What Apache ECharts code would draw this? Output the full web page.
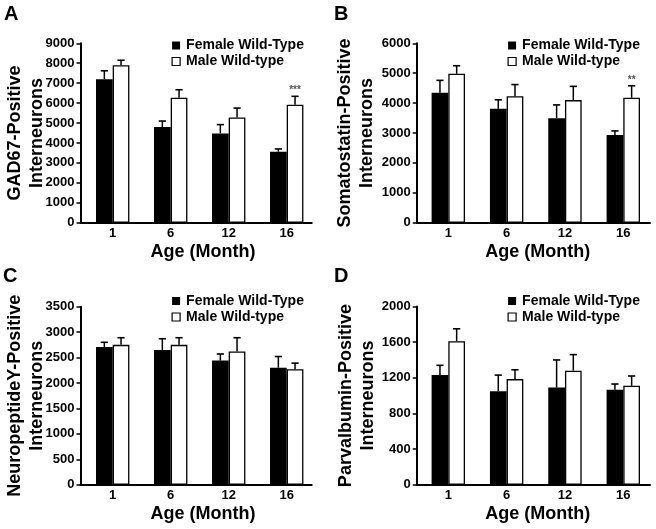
<!DOCTYPE html>
<html><head><meta charset="utf-8">
<script src="https://cdn.jsdelivr.net/npm/echarts@6/dist/echarts.min.js"></script>
<style>html,body{margin:0;padding:0;background:#fff}#c{width:656px;height:529px}</style>
</head><body><div id="c"></div>
<script>
// ---- data ----
const categories = ['1', '6', '12', '16'];
const seriesNames = ['Female Wild-Type', 'Male Wild-type'];
const panelLetters = ['A', 'B', 'C', 'D'];
const yTitles = ['GAD67-Positive\nInterneurons', 'Somatostatin-Positive\nInterneurons',
                 'NeuropeptideY-Positive\nInterneurons', 'Parvalbumin-Positive\nInterneurons'];
const xTitle = 'Age (Month)';
const yMax = [9000, 6000, 3500, 2000];
const yStep = [1000, 1000, 500, 400];

const gadFemale = [7200, 4800, 4480, 3560];
const gadFemaleErr = [420, 300, 440, 140];
const gadMale = [7900, 6270, 5280, 5920];
const gadMaleErr = [250, 400, 470, 420];
const gadSig = ['', '', '', '***'];

const sstFemale = [4350, 3810, 3490, 2930];
const sstFemaleErr = [410, 300, 450, 140];
const sstMale = [4980, 4230, 4100, 4180];
const sstMaleErr = [270, 390, 460, 400];
const sstSig = ['', '', '', '**'];

const npyFemale = [2710, 2650, 2440, 2300];
const npyFemaleErr = [90, 220, 130, 220];
const npyMale = [2750, 2750, 2620, 2270];
const npyMaleErr = [140, 140, 270, 120];
const npySig = ['', '', '', ''];

const pvFemale = [1230, 1050, 1090, 1065];
const pvFemaleErr = [110, 180, 310, 65];
const pvMale = [1610, 1185, 1280, 1110];
const pvMaleErr = [140, 105, 180, 110];
const pvSig = ['', '', '', ''];

const panels = [
  {f: gadFemale, fe: gadFemaleErr, m: gadMale, me: gadMaleErr, sig: gadSig},
  {f: sstFemale, fe: sstFemaleErr, m: sstMale, me: sstMaleErr, sig: sstSig},
  {f: npyFemale, fe: npyFemaleErr, m: npyMale, me: npyMaleErr, sig: npySig},
  {f: pvFemale, fe: pvFemaleErr, m: pvMale, me: pvMaleErr, sig: pvSig}
];

// ---- layout / style ----
const FONT = '"Liberation Sans", Arial, Helvetica, sans-serif';
const BAR_W = 16.7;
const gridPos = [
  {left: 80.5, top: 43.3, width: 231.2, height: 179.4},
  {left: 416.7, top: 43.3, width: 233.3, height: 179.4},
  {left: 80.5, top: 306.7, width: 231.2, height: 178},
  {left: 416.7, top: 306.5, width: 233.3, height: 178.2}
];
const xRange = [[-0.555, 3.431], [-0.542, 3.458]];
const yNameGap = [32, 39, 32, 38];
const legendPos = [[171.5, 37.5], [507.5, 37.5], [171.5, 293], [507.5, 293]];
const titlePos = [[4, 4], [334, 4], [3, 266], [334, 266]];

function errorSeries(gi, vals, errs, sig, shift) {
  return {
    type: 'custom', xAxisIndex: gi, yAxisIndex: gi, silent: true, z: 5,
    data: vals.map((v, i) => [i, v, errs[i]]),
    encode: {x: 0, y: 1},
    renderItem(params, api) {
      const i = api.value(0), v = api.value(1), e = api.value(2);
      const b = api.coord([i, v]);
      const t = api.coord([i, v + e]);
      const cx = b[0] + shift;
      const children = [
        {type: 'line', shape: {x1: cx, y1: b[1], x2: cx, y2: t[1]}, style: {stroke: '#000', lineWidth: 1.5}},
        {type: 'line', shape: {x1: cx - 3.6, y1: t[1], x2: cx + 3.6, y2: t[1]}, style: {stroke: '#000', lineWidth: 1.6}}
      ];
      const s = sig[params.dataIndex];
      if (s) {
        children.push({type: 'text', style: {text: s, x: cx, y: t[1] - 6, align: 'center', verticalAlign: 'middle',
          fontSize: 10, fontWeight: 'bold', fontFamily: FONT, fill: '#555'}});
      }
      return {type: 'group', children};
    }
  };
}

const grid = [], xAxis = [], yAxis = [], series = [], legend = [], title = [];
panels.forEach((p, gi) => {
  const col = gi % 2;
  grid.push(Object.assign({outerBoundsMode: 'none', containLabel: false}, gridPos[gi]));
  xAxis.push({
    type: 'value', gridIndex: gi, min: xRange[col][0], max: xRange[col][1],
    axisLine: {show: true, onZero: false, lineStyle: {color: '#000', width: 2}},
    axisTick: {show: false}, splitLine: {show: false},
    axisLabel: {customValues: categories.map((c, i) => i), formatter: v => categories[Math.round(v)],
      fontSize: 13, fontWeight: 'bold', color: '#000', margin: 4, fontFamily: FONT},
    name: xTitle, nameLocation: 'middle', nameGap: 20, nameMoveOverlap: false,
    nameTextStyle: {fontSize: 18, fontWeight: 'bold', color: '#000', fontFamily: FONT, padding: [0, 0, 0, col ? 9 : 14]}
  });
  yAxis.push({
    type: 'value', gridIndex: gi, min: 0, max: yMax[gi], interval: yStep[gi],
    name: yTitles[gi], nameLocation: 'middle', nameRotate: 90, nameGap: yNameGap[gi], nameMoveOverlap: false,
    nameTextStyle: {fontSize: 18, fontWeight: 'bold', lineHeight: 22, color: '#000', fontFamily: FONT},
    axisLine: {show: true, onZero: false, lineStyle: {color: '#000', width: 2}},
    axisTick: {show: true, length: 4, lineStyle: {color: '#000', width: 1.5}},
    axisLabel: {formatter: v => String(v), fontSize: 13, fontWeight: 'bold', color: '#000', margin: 6, fontFamily: FONT},
    splitLine: {show: false}
  });
  series.push({
    name: seriesNames[0], type: 'bar', xAxisIndex: gi, yAxisIndex: gi,
    data: p.f.map((v, i) => [i, v]), barWidth: BAR_W, barGap: '0%',
    itemStyle: {color: '#000'}, silent: true
  });
  series.push({
    name: seriesNames[1], type: 'bar', xAxisIndex: gi, yAxisIndex: gi,
    data: p.m.map((v, i) => [i, v]), barWidth: BAR_W, barGap: '0%',
    itemStyle: {color: '#fff', borderColor: '#000', borderWidth: 1.3}, silent: true
  });
  series.push(errorSeries(gi, p.f, p.fe, ['', '', '', ''], -BAR_W / 2));
  series.push(errorSeries(gi, p.m, p.me, p.sig, BAR_W / 2));
  legend.push({
    data: seriesNames, left: legendPos[gi][0], top: legendPos[gi][1], orient: 'vertical',
    itemWidth: 8, itemHeight: 8, itemGap: 0, padding: 0, icon: 'rect', selectedMode: false,
    itemStyle: {borderWidth: 1.2},
    textStyle: {fontSize: 14, fontWeight: 'bold', color: '#000', lineHeight: 16, fontFamily: FONT, padding: [0, 0, 0, 1]}
  });
  title.push({
    text: panelLetters[gi], left: titlePos[gi][0], top: titlePos[gi][1], padding: 0,
    textStyle: {fontSize: 20, fontWeight: 'bold', color: '#000', fontFamily: FONT}
  });
});

const chart = echarts.init(document.getElementById('c'), null, {renderer: 'canvas'});
chart.setOption({
  animation: false, backgroundColor: '#fff',
  textStyle: {fontFamily: FONT},
  title, legend, grid, xAxis, yAxis, series
});
</script></body></html>
